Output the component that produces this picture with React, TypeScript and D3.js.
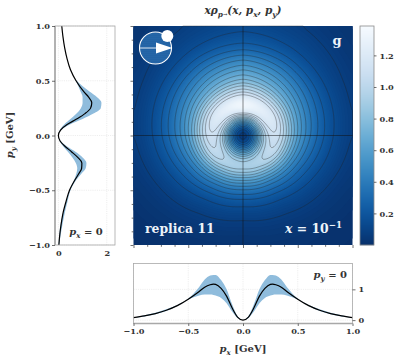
import React, { useEffect, useRef } from "react";
import * as d3 from "d3";

// curve at px = 0 (left panel)
const pyValues = [-1, -0.9, -0.8, -0.7, -0.6, -0.5, -0.4, -0.35, -0.3, -0.25, -0.2, -0.15, -0.1, -0.05, 0, 0.05, 0.1, 0.15, 0.2, 0.25, 0.3, 0.35, 0.4, 0.5, 0.6, 0.7, 0.8, 0.9, 1];
const pyCentral = [0.02, 0.06, 0.12, 0.2, 0.32, 0.46, 0.7, 0.84, 0.96, 0.97, 0.8, 0.55, 0.28, 0.07, 0, 0.09, 0.36, 0.75, 1.1, 1.33, 1.38, 1.25, 1.05, 0.73, 0.5, 0.36, 0.26, 0.19, 0.14];
const pyLower = [0.01, 0.04, 0.1, 0.2, 0.32, 0.46, 0.66, 0.74, 0.78, 0.72, 0.58, 0.4, 0.2, 0.05, 0, 0.06, 0.24, 0.5, 0.75, 0.93, 1.0, 1.0, 0.92, 0.72, 0.5, 0.36, 0.26, 0.19, 0.14];
const pyUpper = [0.03, 0.1, 0.18, 0.27, 0.38, 0.5, 0.76, 0.95, 1.13, 1.16, 1.0, 0.72, 0.36, 0.09, 0, 0.12, 0.48, 1.0, 1.45, 1.75, 1.78, 1.6, 1.3, 0.76, 0.5, 0.36, 0.26, 0.19, 0.14];

// curve at py = 0 (bottom panel)
const pxValues = [-1, -0.9, -0.8, -0.7, -0.6, -0.5, -0.4, -0.35, -0.3, -0.27, -0.25, -0.2, -0.15, -0.1, -0.05, 0, 0.05, 0.1, 0.15, 0.2, 0.25, 0.27, 0.3, 0.35, 0.4, 0.5, 0.6, 0.7, 0.8, 0.9, 1];
const pxCentral = [0.08, 0.14, 0.21, 0.32, 0.47, 0.68, 0.93, 1.07, 1.15, 1.17, 1.16, 1.03, 0.78, 0.4, 0.1, 0, 0.1, 0.4, 0.78, 1.03, 1.16, 1.17, 1.15, 1.07, 0.93, 0.68, 0.47, 0.32, 0.21, 0.14, 0.08];
const pxLower = [0.08, 0.12, 0.19, 0.3, 0.46, 0.67, 0.8, 0.83, 0.83, 0.82, 0.8, 0.72, 0.55, 0.28, 0.07, 0, 0.07, 0.28, 0.55, 0.72, 0.8, 0.82, 0.83, 0.83, 0.8, 0.67, 0.46, 0.3, 0.19, 0.12, 0.08];
const pxUpper = [0.08, 0.16, 0.24, 0.35, 0.49, 0.7, 1.08, 1.32, 1.45, 1.47, 1.47, 1.3, 1.0, 0.52, 0.13, 0, 0.13, 0.52, 1.0, 1.3, 1.47, 1.47, 1.45, 1.32, 1.08, 0.7, 0.49, 0.35, 0.24, 0.16, 0.08];

const radii = [0, 0.05, 0.1, 0.15, 0.2, 0.25, 0.3, 0.35, 0.4, 0.5, 0.6, 0.7, 0.8, 0.9, 1, 1.2, 1.45];
const rayAngles = [-90, -60, -30, 0, 30, 60, 90];
const rayDensity = [
	[0, 0.07, 0.28, 0.55, 0.8, 0.94, 0.93, 0.8, 0.62, 0.36, 0.2, 0.11, 0.07, 0.04, 0.025, 0.01, 0],
	[0, 0.07, 0.29, 0.58, 0.84, 0.96, 0.96, 0.84, 0.67, 0.39, 0.23, 0.13, 0.085, 0.055, 0.035, 0.014, 0.004],
	[0, 0.075, 0.32, 0.66, 0.92, 1.04, 1.05, 0.96, 0.78, 0.48, 0.3, 0.19, 0.12, 0.08, 0.05, 0.02, 0.008],
	[0, 0.08, 0.35, 0.72, 0.98, 1.1, 1.13, 1.04, 0.88, 0.58, 0.4, 0.27, 0.17, 0.11, 0.075, 0.03, 0.012],
	[0, 0.085, 0.36, 0.74, 1.05, 1.2, 1.22, 1.12, 0.96, 0.66, 0.47, 0.33, 0.21, 0.135, 0.09, 0.045, 0.018],
	[0, 0.09, 0.36, 0.74, 1.08, 1.28, 1.3, 1.16, 1.0, 0.72, 0.54, 0.39, 0.25, 0.16, 0.115, 0.06, 0.025],
	[0, 0.09, 0.36, 0.75, 1.13, 1.35, 1.39, 1.2, 1.05, 0.78, 0.6, 0.44, 0.27, 0.18, 0.13, 0.07, 0.03]
];
const contourLevels = [0.08, 0.155, 0.23, 0.3, 0.38, 0.455, 0.53, 0.6, 0.68, 0.755, 0.83, 0.9, 0.98, 1.055, 1.13];

const majorTicks = [-1, -0.5, 0, 0.5, 1];
const minorTicks = [-0.875, -0.75, -0.625, -0.375, -0.25, -0.125, 0.125, 0.25, 0.375, 0.625, 0.75, 0.875];
const colorbarTicks = [0.2, 0.4, 0.6, 0.8, 1.0, 1.2];
const densityTicksLeft = [0, 2];
const densityTicksBottom = [0, 1];

const FONT = "'DejaVu Serif', serif";
const SPINE = "#a8a8a8";
const BAND = "#8fbcdc";
const GRID_N = 180;

const map = { left: 133.5, right: 352.5, top: 26, bottom: 245 };
const leftPanel = { left: 55, right: 115, top: 26, bottom: 245 };
const bottomPanel = { left: 133.5, right: 352.5, top: 263.5, bottom: 323.5 };
const cbar = { left: 360, right: 374, top: 26, bottom: 245 };

function buildGrid() {
	const rayScales = rayDensity.map(row => d3.scaleLinear().domain(radii).range(row).clamp(true));
	const angleIndex = d3.scaleLinear().domain(rayAngles).range(rayAngles.map((_, i) => i));
	const values = new Float64Array(GRID_N * GRID_N);
	for (let j = 0; j < GRID_N; j++) {
		for (let i = 0; i < GRID_N; i++) {
			const px = ((i + 0.5) / GRID_N) * 2 - 1;
			const py = 1 - ((j + 0.5) / GRID_N) * 2;
			const r = Math.hypot(px, py);
			const phi = (Math.atan2(py, Math.abs(px)) * 180) / Math.PI;
			const t = angleIndex(phi);
			const k = Math.min(Math.floor(t), rayAngles.length - 2);
			const a = rayScales[k](r);
			const b = rayScales[k + 1](r);
			values[j * GRID_N + i] = a + (b - a) * (t - k);
		}
	}
	d3.blur2({ data: values, width: GRID_N, height: GRID_N }, 1.5);
	return values;
}

function styleTicks(g: any) {
	g.select(".domain").remove();
	g.selectAll("line").attr("stroke", "#333").attr("stroke-width", 0.7);
	g.selectAll("text")
		.attr("font-family", FONT)
		.attr("font-size", 8.2)
		.attr("font-weight", "bold")
		.attr("fill", "#333");
}

function frame(svg: any, b: any, heavy: string) {
	svg.append("rect")
		.attr("x", b.left)
		.attr("y", b.top)
		.attr("width", b.right - b.left)
		.attr("height", b.bottom - b.top)
		.attr("fill", "none")
		.attr("stroke", SPINE)
		.attr("stroke-width", 0.8);
	const h = heavy === "left"
		? [b.left, b.top, b.left, b.bottom]
		: [b.left, b.bottom, b.right, b.bottom];
	svg.append("line")
		.attr("x1", h[0]).attr("y1", h[1]).attr("x2", h[2]).attr("y2", h[3])
		.attr("stroke", SPINE)
		.attr("stroke-width", 1.6);
}

function mathLabel(svg: any, x: number, y: number, anchor: string, size: number, fill: string, parts: any[], rotate?: number) {
	const t = svg.append("text")
		.attr("x", x)
		.attr("y", y)
		.attr("text-anchor", anchor)
		.attr("font-family", FONT)
		.attr("font-size", size)
		.attr("font-weight", "bold")
		.attr("fill", fill);
	if (rotate) t.attr("transform", `rotate(${rotate} ${x} ${y})`);
	let shift = 0;
	parts.forEach(p => {
		const dy = (p.dy || 0) * size - shift;
		shift = (p.dy || 0) * size;
		t.append("tspan")
			.attr("dy", dy)
			.attr("font-style", p.it ? "italic" : "normal")
			.attr("font-size", p.s ? p.s * size : size)
			.text(p.t);
	});
	return t;
}

export default function App() {
	const ref = useRef<SVGSVGElement>(null);

	useEffect(() => {
		const svg = d3.select(ref.current);
		svg.selectAll("*").remove();

		const color = (v: number) => d3.interpolateBlues(1 - Math.min(v / 1.39, 1));

		//Heat map
		const x = d3.scaleLinear().domain([-1, 1]).range([map.left, map.right]);
		const y = d3.scaleLinear().domain([-1, 1]).range([map.bottom, map.top]);
		const grid = buildGrid();
		const k = (map.right - map.left) / GRID_N;
		const path = d3.geoPath(d3.geoIdentity().scale(k).translate([map.left, map.top]) as any);
		const contours = d3.contours().size([GRID_N, GRID_N]);

		const fills = svg.append("g");
		fills.append("rect")
			.attr("x", map.left)
			.attr("y", map.top)
			.attr("width", map.right - map.left)
			.attr("height", map.bottom - map.top)
			.attr("fill", color(0));
		contours.thresholds(d3.range(0.01, 1.4, 0.01))(grid as any).forEach(c => {
			fills.append("path")
				.attr("d", path(c as any))
				.attr("fill", color(c.value));
		});

		const lines = svg.append("g").attr("fill", "none");
		contours.thresholds(contourLevels)(grid as any).forEach(c => {
			lines.append("path")
				.attr("d", path(c as any))
				.attr("stroke", "#222")
				.attr("stroke-opacity", 0.55)
				.attr("stroke-width", 0.65);
		});

		svg.append("line")
			.attr("x1", x(0)).attr("x2", x(0)).attr("y1", map.top).attr("y2", map.bottom)
			.attr("stroke", "#111").attr("stroke-opacity", 0.7).attr("stroke-width", 0.7);
		svg.append("line")
			.attr("x1", map.left).attr("x2", map.right).attr("y1", y(0)).attr("y2", y(0))
			.attr("stroke", "#111").attr("stroke-opacity", 0.7).attr("stroke-width", 0.7);

		svg.append("g")
			.attr("transform", `translate(${map.left},0)`)
			.call(d3.axisLeft(y).tickValues(majorTicks).tickSize(3).tickFormat(() => ""))
			.call(styleTicks);
		svg.append("g")
			.attr("transform", `translate(${map.left},0)`)
			.call(d3.axisLeft(y).tickValues(minorTicks).tickSize(1.8).tickFormat(() => ""))
			.call(styleTicks);
		svg.append("g")
			.attr("transform", `translate(0,${map.bottom})`)
			.call(d3.axisBottom(x).tickValues(majorTicks).tickSize(3).tickFormat(() => ""))
			.call(styleTicks);
		svg.append("g")
			.attr("transform", `translate(0,${map.bottom})`)
			.call(d3.axisBottom(x).tickValues(minorTicks).tickSize(1.8).tickFormat(() => ""))
			.call(styleTicks);

		//Proton logo
		const defs = svg.append("defs");
		const pattern = defs.append("pattern")
			.attr("id", "dots")
			.attr("width", 2)
			.attr("height", 2)
			.attr("patternUnits", "userSpaceOnUse");
		pattern.append("rect").attr("width", 2).attr("height", 2).attr("fill", "#2a6cae");
		pattern.append("circle").attr("cx", 1).attr("cy", 1).attr("r", 0.6).attr("fill", "#0f4a8c");
		const logo = svg.append("g");
		logo.append("circle").attr("cx", 155.5).attr("cy", 48).attr("r", 16)
			.attr("fill", "url(#dots)").attr("stroke", "#fff").attr("stroke-width", 1.1);
		logo.append("line").attr("x1", 139.5).attr("x2", 157).attr("y1", 48).attr("y2", 48)
			.attr("stroke", "#dfe9f3").attr("stroke-width", 1);
		logo.append("path").attr("d", "M156,42.5L172.5,48L156,53.5Z").attr("fill", "#fff");
		logo.append("circle").attr("cx", 167.3).attr("cy", 36).attr("r", 6).attr("fill", "#fff");

		//Map annotations
		mathLabel(svg, 337, 45, "middle", 13, "#eef4fa", [{ t: "g" }]);
		mathLabel(svg, 145, 233, "start", 12.4, "#eef4fa", [{ t: "replica 11" }]);
		mathLabel(svg, 342, 233, "end", 12.4, "#eef4fa", [
			{ t: "x", it: true },
			{ t: " = 10" },
			{ t: "−1", s: 0.7, dy: -0.42 }
		]);

		//Colorbar
		const c = d3.scaleLinear().domain([0, 1.386]).range([cbar.bottom, cbar.top]);
		const cbarG = svg.append("g");
		d3.range(cbar.top, cbar.bottom, 1).forEach(py => {
			cbarG.append("rect")
				.attr("x", cbar.left)
				.attr("y", py)
				.attr("width", cbar.right - cbar.left)
				.attr("height", 1.2)
				.attr("fill", color(c.invert(py + 0.5)));
		});
		svg.append("rect")
			.attr("x", cbar.left)
			.attr("y", cbar.top)
			.attr("width", cbar.right - cbar.left)
			.attr("height", cbar.bottom - cbar.top)
			.attr("fill", "none")
			.attr("stroke", "#8a8a8a")
			.attr("stroke-width", 0.8);
		svg.append("g")
			.attr("transform", `translate(${cbar.right},0)`)
			.call(d3.axisRight(c).tickValues(colorbarTicks).tickSize(2.5).tickFormat(d3.format(".1f") as any))
			.call(styleTicks);

		//Left panel
		const lx = d3.scaleLinear().domain([-0.14, 2.34]).range([leftPanel.left, leftPanel.right]);
		const ly = d3.scaleLinear().domain([-1, 1]).range([leftPanel.bottom, leftPanel.top]);
		const gridL = svg.append("g").attr("stroke", "#ddd").attr("stroke-width", 0.5).attr("stroke-dasharray", "1.2 1");
		densityTicksLeft.forEach(v => {
			gridL.append("line").attr("x1", lx(v)).attr("x2", lx(v)).attr("y1", leftPanel.top).attr("y2", leftPanel.bottom);
		});
		majorTicks.forEach(v => {
			gridL.append("line").attr("x1", leftPanel.left).attr("x2", leftPanel.right).attr("y1", ly(v)).attr("y2", ly(v));
		});
		const bandL = d3.area<number>()
			.y(d => ly(d))
			.x0((_, i) => lx(pyLower[i]))
			.x1((_, i) => lx(pyUpper[i]))
			.curve(d3.curveMonotoneY);
		svg.append("path").attr("d", bandL(pyValues)).attr("fill", BAND);
		const lineL = d3.line<number>()
			.y(d => ly(d))
			.x((_, i) => lx(pyCentral[i]))
			.curve(d3.curveMonotoneY);
		svg.append("path").attr("d", lineL(pyValues)).attr("fill", "none").attr("stroke", "#000").attr("stroke-width", 1.2);
		frame(svg, leftPanel, "left");
		svg.append("g")
			.attr("transform", `translate(${leftPanel.left},0)`)
			.call(d3.axisLeft(ly).tickValues(majorTicks).tickSize(3).tickPadding(2).tickFormat(d3.format(".1f") as any))
			.call(styleTicks);
		svg.append("g")
			.attr("transform", `translate(0,${leftPanel.bottom})`)
			.call(d3.axisBottom(lx).tickValues(densityTicksLeft).tickSize(0).tickPadding(5).tickFormat(d3.format("d") as any))
			.call(styleTicks);
		mathLabel(svg, 86, 235, "middle", 10, "#333", [
			{ t: "p", it: true },
			{ t: "x", it: true, s: 0.7, dy: 0.25 },
			{ t: " = 0" }
		]);
		mathLabel(svg, 13, 135, "middle", 10, "#333", [
			{ t: "p", it: true },
			{ t: "y", it: true, s: 0.7, dy: 0.25 },
			{ t: " [GeV]" }
		], -90);

		//Bottom panel
		const bx = d3.scaleLinear().domain([-1, 1]).range([bottomPanel.left, bottomPanel.right]);
		const by = d3.scaleLinear().domain([-0.11, 1.84]).range([bottomPanel.bottom, bottomPanel.top]);
		const gridB = svg.append("g").attr("stroke", "#ddd").attr("stroke-width", 0.5).attr("stroke-dasharray", "1.2 1");
		majorTicks.forEach(v => {
			gridB.append("line").attr("x1", bx(v)).attr("x2", bx(v)).attr("y1", bottomPanel.top).attr("y2", bottomPanel.bottom);
		});
		densityTicksBottom.forEach(v => {
			gridB.append("line").attr("x1", bottomPanel.left).attr("x2", bottomPanel.right).attr("y1", by(v)).attr("y2", by(v));
		});
		const bandB = d3.area<number>()
			.x(d => bx(d))
			.y0((_, i) => by(pxLower[i]))
			.y1((_, i) => by(pxUpper[i]))
			.curve(d3.curveMonotoneX);
		svg.append("path").attr("d", bandB(pxValues)).attr("fill", BAND);
		const lineB = d3.line<number>()
			.x(d => bx(d))
			.y((_, i) => by(pxCentral[i]))
			.curve(d3.curveMonotoneX);
		svg.append("path").attr("d", lineB(pxValues)).attr("fill", "none").attr("stroke", "#000").attr("stroke-width", 1.2);
		frame(svg, bottomPanel, "bottom");
		svg.append("g")
			.attr("transform", `translate(0,${bottomPanel.bottom})`)
			.call(d3.axisBottom(bx).tickValues(majorTicks).tickSize(2.5).tickPadding(2).tickFormat(d3.format(".1f") as any))
			.call(styleTicks);
		svg.append("g")
			.attr("transform", `translate(${bottomPanel.right},0)`)
			.call(d3.axisRight(by).tickValues(densityTicksBottom).tickSize(3).tickPadding(3).tickFormat(d3.format("d") as any))
			.call(styleTicks);
		mathLabel(svg, 347, 278, "end", 10, "#333", [
			{ t: "p", it: true },
			{ t: "y", it: true, s: 0.7, dy: 0.25 },
			{ t: " = 0" }
		]);
		mathLabel(svg, 243, 352, "middle", 10, "#333", [
			{ t: "p", it: true },
			{ t: "x", it: true, s: 0.7, dy: 0.25 },
			{ t: " [GeV]" }
		]);

		//Title
		mathLabel(svg, 243, 14, "middle", 10.5, "#333", [
			{ t: "xρ", it: true },
			{ t: "p", it: true, s: 0.7, dy: 0.3 },
			{ t: "→", s: 0.5, dy: 0.15 },
			{ t: "(x, p", it: true },
			{ t: "x", it: true, s: 0.7, dy: 0.25 },
			{ t: ", p", it: true },
			{ t: "y", it: true, s: 0.7, dy: 0.25 },
			{ t: ")", it: true }
		]);
	}, []);

	return (
		<svg
			ref={ref}
			width={399}
			height={362}
			style={{ position: "absolute", left: 0, top: 0, background: "#fff" }}
		/>
	);
}
